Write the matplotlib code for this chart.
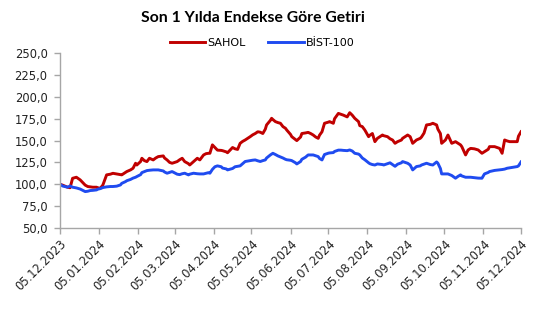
import matplotlib
matplotlib.use("Agg")
import matplotlib.pyplot as plt
import pandas as pd

# days since 05.12.2023 for each reading
days = [0, 2, 6, 8, 10, 13, 16, 18, 20, 22, 24, 26, 29, 30, 32, 34, 37, 40, 42, 45,
        48, 49, 52, 53, 56, 58, 60, 61, 64, 65, 67, 69, 71, 74, 76, 78, 80, 82, 83, 85,
        87, 89, 91, 93, 95, 97, 99, 102, 103, 106, 109, 111, 114, 116, 118, 119, 121, 123, 125, 128,
        129, 132, 133, 137, 139, 141, 143, 145, 147, 149, 151, 153, 155, 157, 159, 161, 163, 164, 167, 168,
        169, 171, 173, 175, 177, 179, 180, 183, 184, 187, 188, 191, 192, 195, 197, 199, 201, 203, 205, 206,
        208, 210, 213, 214, 217, 218, 221, 223, 225, 228, 230, 232, 234, 237, 238, 240, 242, 245, 246, 248,
        250, 252, 256, 257, 260, 262, 264, 266, 268, 271, 272, 276, 278, 280, 283, 286, 287, 289, 291, 294,
        296, 299, 300, 302, 303, 306, 308, 311, 314, 316, 318, 319, 322, 324, 326, 329, 332, 335, 337, 340,
        341, 345, 349, 351, 353, 355, 357, 360, 363, 364, 366]

sahol = [100, 99, 96.6, 96, 106.8, 108, 105, 102, 99, 97.4, 97, 96.6, 96.6, 96, 95.4, 99, 110.7, 111.5, 112.5, 111.8,
         111, 110.7, 113.5, 114.5, 116.4, 118.3, 124, 122, 126, 129.7, 127, 125.9, 129.7, 127.8, 130, 131.6, 132, 132.4, 130, 127.8,
         125, 124, 125, 125.9, 128, 129.7, 125.9, 123.5, 122, 125.9, 129.7, 127.8, 133.5, 135, 135.4, 135.4, 145, 142, 139, 138.7,
         138.4, 137, 136, 142, 140.5, 139.8, 146.8, 149, 150.6, 152.5, 154.4, 156.5, 158, 160, 159.5, 158, 163, 167.8, 173, 175.4,
         174, 171.6, 170.5, 169.7, 165.9, 164, 162, 157, 154.4, 151, 149.9, 154, 158, 158.7, 159.3, 158, 156.3, 154, 152.5, 156,
         160, 169.7, 171, 171.6, 169.7, 175, 181, 180, 179, 177, 181.8, 179, 175.4, 171.6, 167, 165.9, 162, 154.4, 156, 158,
         148.7, 152.5, 156.3, 155.5, 154.4, 152, 150.6, 146.8, 148.7, 150.5, 152.5, 156.3, 154.4, 146.8, 150.6, 152.5, 154, 158.5, 167.8, 168.5,
         169.7, 167.8, 163, 158, 146.8, 150.6, 156.3, 146.8, 148.7, 146.8, 145, 143, 133.5, 139.2, 141, 140.5, 139.2, 135.4, 137.3, 140,
         143, 143, 141, 135.4, 150.6, 149.5, 148.7, 148.7, 148.7, 155, 160]

bist100 = [100, 98, 96.6, 98, 96.6, 95.8, 94.5, 93, 91.6, 92, 92.8, 93, 93.5, 94.3, 95, 96.2, 97, 97.4, 97.4, 97.8,
           99.2, 101, 103, 104, 105.5, 107, 108, 108.8, 111, 113.3, 114.5, 115.6, 116, 116.4, 116.4, 116.4, 115.8, 115.2, 114, 112.6,
           113.5, 114.5, 113, 111.5, 111, 112, 112.6, 110.7, 111.5, 112.6, 112, 111.8, 111.8, 112.6, 113.3, 112.6, 117, 120, 121, 120,
           118.5, 117.5, 116.4, 118, 120, 120.5, 121, 123.5, 126, 126.5, 127, 127.5, 127.8, 126.8, 126, 127, 127.8, 130, 133.5, 134.5,
           135.4, 134, 132.4, 131.2, 130, 128.5, 128, 127.4, 127, 124.5, 123.2, 126, 128.5, 131, 133.5, 133.5, 133.5, 132.5, 131.6, 129.5,
           127.8, 134, 135.5, 135.8, 136.2, 137.5, 139, 139, 138.7, 138.4, 139.2, 138, 135.4, 134.5, 133.5, 130, 128, 124.5, 123.5, 122.5,
           122, 123.2, 122.5, 122, 123.5, 124.5, 122.5, 120.5, 122.9, 124.5, 125.9, 124, 122, 116.4, 120.2, 121, 122, 123, 124, 122.5,
           122, 125.5, 124, 118, 111.8, 111.8, 111.8, 110, 106.9, 109, 110.7, 109.5, 108, 108, 108, 107.5, 107, 106.9, 111.8, 113.5,
           114.5, 115.8, 116.4, 116.8, 117.3, 118.3, 118.8, 119.5, 120.2, 121, 125.5]

start = pd.Timestamp("2023-12-05")
tick_labels = ["05.12.2023", "05.01.2024", "05.02.2024", "05.03.2024", "05.04.2024",
               "05.05.2024", "05.06.2024", "05.07.2024", "05.08.2024", "05.09.2024",
               "05.10.2024", "05.11.2024", "05.12.2024"]
y_ticks = [50, 75, 100, 125, 150, 175, 200, 225, 250]

dates = [start + pd.Timedelta(days=d) for d in days]
tick_dates = [pd.to_datetime(t, format="%d.%m.%Y") for t in tick_labels]

fig = plt.figure(figsize=(5.43, 3.14), dpi=100)
ax = fig.add_axes([0.1105, 0.274, 0.849, 0.557])

ax.plot(dates, sahol, color="#C00000", lw=2.1, label="SAHOL")
ax.plot(dates, bist100, color="#1F4BF0", lw=2.1, label="BİST-100")

ax.set_xlim(tick_dates[0], tick_dates[-1])
ax.set_ylim(50, 250)
ax.set_yticks(y_ticks)
ax.set_yticklabels([f"{v:.1f}".replace(".", ",") for v in y_ticks],
                   fontsize=8.3, color="#222222")
ax.set_xticks(tick_dates)
ax.set_xticklabels(tick_labels, rotation=45, ha="right", rotation_mode="anchor",
                   fontsize=8.3, color="#222222")

for s in ["top", "right"]:
    ax.spines[s].set_visible(False)
for s in ["left", "bottom"]:
    ax.spines[s].set_color("#A6A6A6")
    ax.spines[s].set_linewidth(1.0)
ax.tick_params(axis="both", direction="out", length=4, color="#A6A6A6", width=1.0)
ax.tick_params(axis="y", pad=5)
ax.tick_params(axis="x", pad=3)

fig.text(0.465, 0.942, "Son 1 Yılda Endekse Göre Getiri", ha="center", va="center",
         fontsize=11.3, fontweight="bold", family="Lato")
fig.legend(loc="center", bbox_to_anchor=(0.483, 0.862), ncol=2, frameon=False,
           fontsize=8, handlelength=3.2, columnspacing=2.0, handletextpad=0.2,
           borderpad=0.1)

fig.savefig("out.png", dpi=100)
